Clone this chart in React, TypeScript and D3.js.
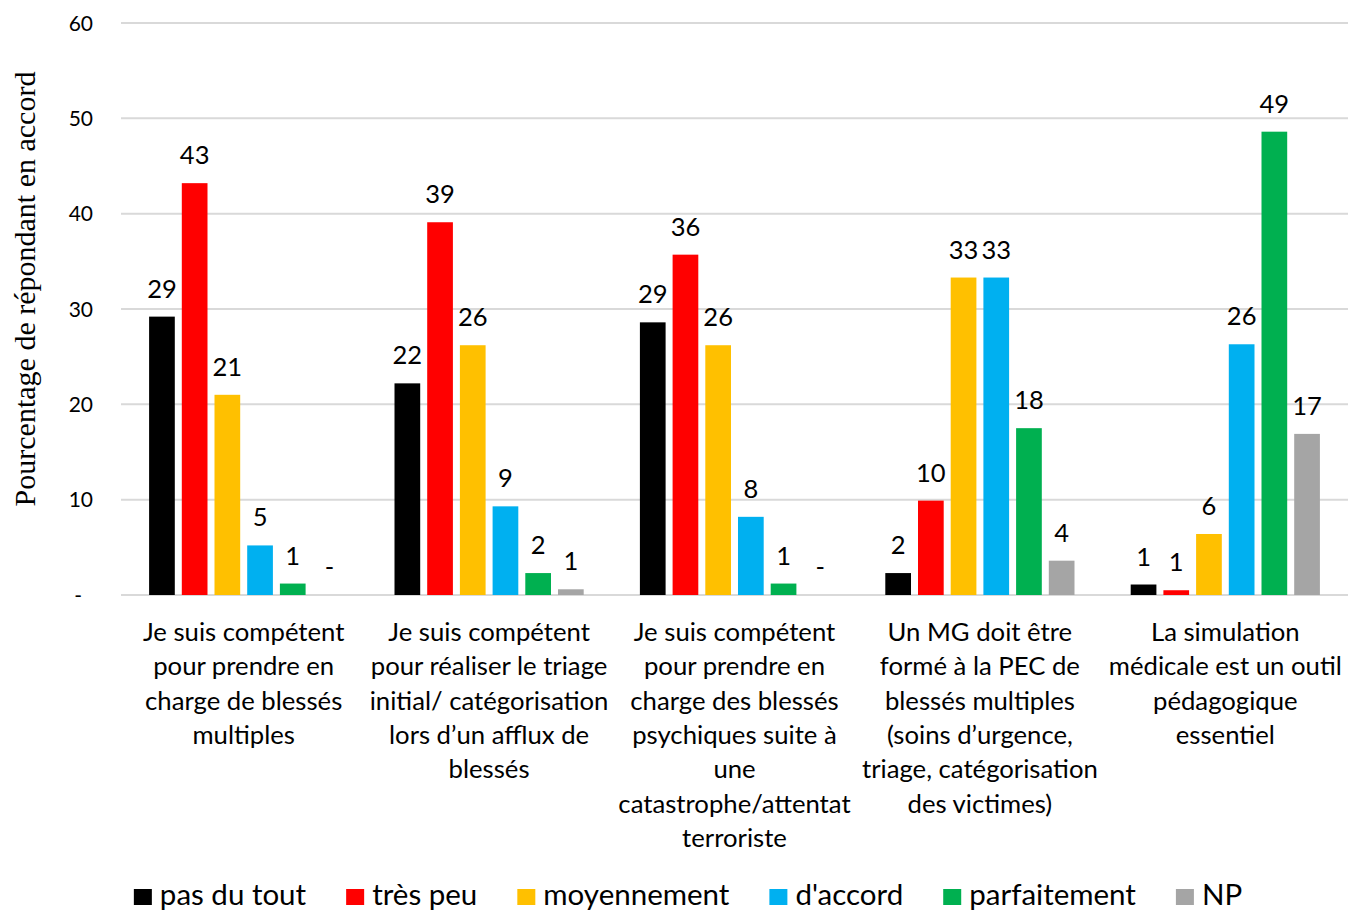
import React, { useEffect, useRef } from "react";
import * as d3 from "d3";

const categories: string[][] = [
  ["Je suis compétent", "pour prendre en", "charge de blessés", "multiples"],
  ["Je suis compétent", "pour réaliser le triage", "initial/ catégorisation", "lors d’un afflux de", "blessés"],
  ["Je suis compétent", "pour prendre en", "charge des blessés", "psychiques suite à", "une", "catastrophe/attentat", "terroriste"],
  ["Un MG doit être", "formé à la PEC de", "blessés multiples", "(soins d’urgence,", "triage, catégorisation", "des victimes)"],
  ["La simulation", "médicale est un outil", "pédagogique", "essentiel"],
];

const seriesNames = ["pas du tout", "très peu", "moyennement", "d'accord", "parfaitement", "NP"];
const seriesColors = ["#000000", "#FF0000", "#FFC000", "#00B0F0", "#00B050", "#A5A5A5"];

const pasDuTout = [29.2, 22.2, 28.6, 2.3, 1.1];
const tresPeu = [43.2, 39.1, 35.7, 9.9, 0.5];
const moyennement = [21.0, 26.2, 26.2, 33.3, 6.4];
const dAccord = [5.2, 9.3, 8.2, 33.3, 26.3];
const parfaitement = [1.2, 2.3, 1.2, 17.5, 48.6];
const np = [0, 0.6, 0, 3.6, 16.9];

const seriesValues = [pasDuTout, tresPeu, moyennement, dAccord, parfaitement, np];
const yTicks = [0, 10, 20, 30, 40, 50, 60];
const yTitle = "Pourcentage de répondant en accord";

const W = 1348;
const H = 910;
const FONT = "Lato, 'Open Sans', sans-serif";

export default function App() {
  const ref = useRef<SVGSVGElement | null>(null);

  useEffect(() => {
    const svg = d3.select(ref.current);
    svg.selectAll("*").remove();

    const plotLeft = 121;
    const plotRight = 1348;
    const y = d3.scaleLinear().domain([0, 60]).range([595, 23]);
    const x0 = d3
      .scaleBand<number>()
      .domain(categories.map((_, i) => i))
      .range([plotLeft, plotRight]);
    const bw = x0.bandwidth();
    const x1 = d3
      .scaleBand<number>()
      .domain(seriesNames.map((_, i) => i))
      .range([28.1, bw - 28.1])
      .paddingInner(0.214);

    // gridlines
    svg
      .append("g")
      .selectAll("line")
      .data(yTicks)
      .join("line")
      .attr("x1", plotLeft)
      .attr("x2", plotRight)
      .attr("y1", (d) => y(d))
      .attr("y2", (d) => y(d))
      .attr("stroke", "#d9d9d9")
      .attr("stroke-width", 2);

    // y tick labels
    svg
      .append("g")
      .selectAll("text")
      .data(yTicks)
      .join("text")
      .attr("x", (d) => (d === 0 ? 82 : 93))
      .attr("y", (d) => y(d) + 7.5)
      .attr("text-anchor", "end")
      .attr("font-family", FONT)
      .attr("font-size", 21)
      .attr("fill", "#000")
      .text((d) => (d === 0 ? "-" : String(d)));

    // y title
    svg
      .append("text")
      .attr("transform", `translate(35, 289) rotate(-90)`)
      .attr("text-anchor", "middle")
      .attr("font-family", "'Liberation Serif', 'Times New Roman', serif")
      .attr("font-size", 30)
      .attr("fill", "#000")
      .text(yTitle);

    // bars
    const groups = svg
      .append("g")
      .selectAll("g")
      .data(categories.map((_, i) => i))
      .join("g")
      .attr("transform", (i) => `translate(${x0(i)},0)`);

    groups
      .selectAll("rect")
      .data((ci) => seriesValues.map((vals, si) => ({ si, v: vals[ci] })))
      .join("rect")
      .attr("x", (d) => x1(d.si)!)
      .attr("width", x1.bandwidth())
      .attr("y", (d) => y(d.v))
      .attr("height", (d) => y(0) - y(d.v))
      .attr("fill", (d) => seriesColors[d.si]);

    groups
      .selectAll("text")
      .data((ci) => seriesValues.map((vals, si) => ({ si, v: vals[ci] })))
      .join("text")
      .attr("x", (d) => x1(d.si)! + x1.bandwidth() / 2 + (d.v === 0 ? 4 : 0))
      .attr("y", (d) => y(d.v) - 19)
      .attr("text-anchor", "middle")
      .attr("font-family", FONT)
      .attr("font-size", 25.5)
      .attr("fill", "#000")
      .text((d) => (d.v === 0 ? "-" : String(Math.round(d.v))));

    // category labels
    const cat = svg
      .append("g")
      .selectAll("text")
      .data(categories.map((lines, i) => ({ lines, i })))
      .join("text")
      .attr("text-anchor", "middle")
      .attr("font-family", FONT)
      .attr("font-size", 25.7)
      .attr("fill", "#000");
    cat
      .selectAll("tspan")
      .data((d) => d.lines.map((l, k) => ({ l, k, i: d.i })))
      .join("tspan")
      .attr("x", (d) => x0(d.i)! + bw / 2)
      .attr("y", (d) => 641 + d.k * 34.3)
      .text((d) => d.l);

    // legend
    const legend = svg.append("g");
    const items: { g: any; w: number }[] = [];
    seriesNames.forEach((name, i) => {
      const g = legend.append("g");
      g.append("rect")
        .attr("x", 0)
        .attr("y", 889)
        .attr("width", 18)
        .attr("height", 16)
        .attr("fill", seriesColors[i]);
      const t = g
        .append("text")
        .attr("x", 26)
        .attr("y", 905)
        .attr("font-family", FONT)
        .attr("font-size", 29.5)
        .attr("fill", "#000")
        .text(name);
      const tw = (t.node() as SVGTextElement).getComputedTextLength();
      items.push({ g, w: 26 + tw });
    });
    const gap = 40;
    const total = d3.sum(items, (d) => d.w) + gap * (items.length - 1);
    let cx = 688 - total / 2;
    items.forEach((it) => {
      it.g.attr("transform", `translate(${cx},0)`);
      cx += it.w + gap;
    });
  }, []);

  return (
    <svg
      ref={ref}
      width={W}
      height={H}
      style={{ position: "absolute", left: 0, top: 0, background: "#fff" }}
    />
  );
}
